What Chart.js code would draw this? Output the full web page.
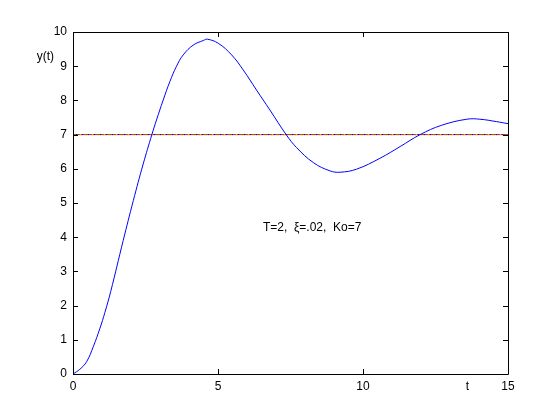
<!DOCTYPE html>
<html>
<head>
<meta charset="utf-8">
<script src="https://cdn.jsdelivr.net/npm/chart.js@4"></script>
<style>
  html, body { margin: 0; padding: 0; background: #fff; }
  #wrap { width: 560px; height: 420px; }
</style>
</head>
<body>
<div id="wrap"><canvas id="c" width="560" height="420"></canvas></div>
<script>
// valores
const tempo = [0, 0.24, 0.47, 0.70, 0.93, 1.10, 1.30, 1.73, 2.08, 2.42, 2.72, 2.88, 3.11, 3.34, 3.57, 3.80, 4.15, 4.49, 4.63, 5.01, 5.47, 5.87, 6.33, 6.79, 7.35, 7.71, 8.29, 8.86, 9.21, 9.78, 10.59, 11.28, 11.97, 12.7, 13.58, 14.03, 14.6, 15];
const resposta = [0, 0.14, 0.36, 0.80, 1.34, 1.80, 2.41, 3.90, 5.07, 6.14, 7.0, 7.43, 8.01, 8.55, 9.0, 9.33, 9.62, 9.75, 9.79, 9.67, 9.33, 8.89, 8.30, 7.72, 7.0, 6.62, 6.18, 5.94, 5.90, 5.99, 6.31, 6.65, 7.0, 7.27, 7.45, 7.45, 7.38, 7.32];
const refT = [0, 15];
const refY = [7, 7];
const xTicks = [0, 5, 10, 15];
const yTicks = [0, 1, 2, 3, 4, 5, 6, 7, 8, 9, 10];

const fonte = '12px "Liberation Sans", Arial, sans-serif';
const pts = (xs, ys) => xs.map((x, i) => ({ x, y: ys[i] }));

// marcas para dentro + textos, estilo matlab
const eixosMatlab = {
    id: 'eixosMatlab',
    afterDraw(chart) {
        const { ctx, chartArea: a, scales: { x, y } } = chart;
        ctx.save();
        ctx.strokeStyle = '#000';
        ctx.lineWidth = 1;
        ctx.beginPath();
        ctx.rect(Math.round(a.left) + 0.5, Math.round(a.top) + 0.5, Math.round(a.right - a.left), Math.round(a.bottom - a.top));
        const tl = 5;
        xTicks.forEach(v => {
            const px = Math.round(x.getPixelForValue(v)) + 0.5;
            ctx.moveTo(px, a.bottom); ctx.lineTo(px, a.bottom - tl);
            ctx.moveTo(px, a.top); ctx.lineTo(px, a.top + tl);
        });
        yTicks.forEach(v => {
            const py = Math.round(y.getPixelForValue(v)) + 0.5;
            ctx.moveTo(a.left, py); ctx.lineTo(a.left + tl, py);
            ctx.moveTo(a.right, py); ctx.lineTo(a.right - tl, py);
        });
        ctx.stroke();

        ctx.fillStyle = '#000';
        ctx.font = fonte;
        ctx.textBaseline = 'middle';
        ctx.textAlign = 'center';
        ctx.fillText('y(t)', x.getPixelForValue(-0.95), y.getPixelForValue(9.27));
        ctx.fillText('t', x.getPixelForValue(13.6), y.getPixelForValue(-0.38));
        ctx.textAlign = 'left';
        ctx.fillText('T=2,  \u03BE=.02,  Ko=7', x.getPixelForValue(6.55), y.getPixelForValue(4.27));
        ctx.restore();
    }
};

const eixo = (min, max, ticks, pad) => ({
    type: 'linear',
    min, max,
    grid: { display: false, drawTicks: false },
    border: { display: false },
    afterBuildTicks: s => { s.ticks = ticks.map(v => ({ value: v })); },
    ticks: { color: '#000', font: { family: '"Liberation Sans", Arial, sans-serif', size: 12 }, padding: pad }
});

const linhaRef = (cor, dash, off) => ({
    data: pts(refT, refY), borderColor: cor, borderWidth: 1, pointRadius: 0,
    borderDash: dash, borderDashOffset: off
});

// o dataset 0 fica por cima
new Chart(document.getElementById('c'), {
    type: 'line',
    data: {
        datasets: [
            { data: pts(tempo, resposta), borderColor: 'rgb(0,0,255)', borderWidth: 1, pointRadius: 0, tension: 0.4 },
            linhaRef('rgb(220,200,0)', [1, 11], 5),
            linhaRef('rgb(0,0,255)', [1, 5], 3),
            linhaRef('rgb(0,190,0)', [2, 4], 0),
            linhaRef('rgb(255,0,0)', [], 0)
        ]
    },
    options: {
        responsive: false,
        animation: false,
        layout: { padding: { top: 32, right: 52, left: 0, bottom: 0 } },
        plugins: { legend: { display: false }, tooltip: { enabled: false } },
        scales: {
            x: { ...eixo(0, 15, xTicks, 5), afterFit: s => { s.height = 46; } },
            y: { ...eixo(0, 10, yTicks, 6), afterFit: s => { s.width = 73; } }
        }
    },
    plugins: [eixosMatlab]
});
</script>
</body>
</html>
